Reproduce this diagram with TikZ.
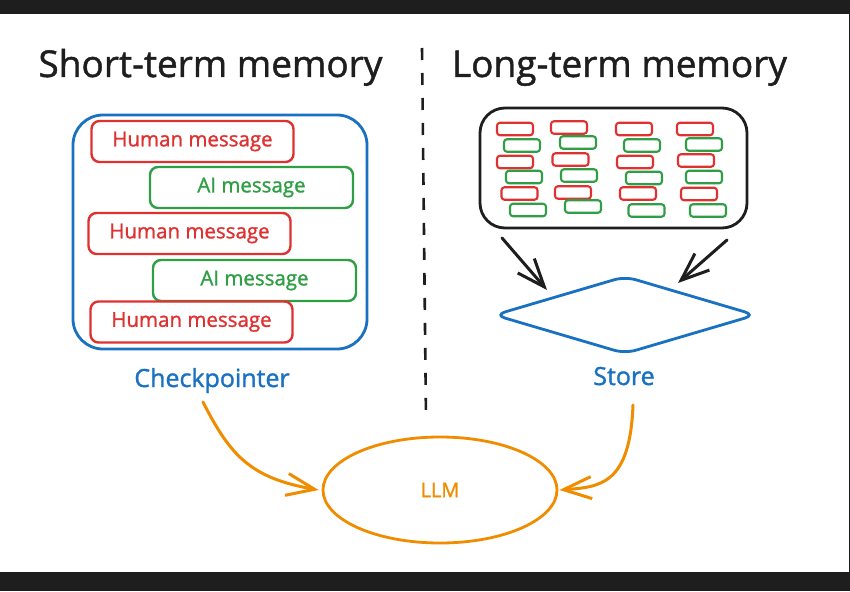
\documentclass[tikz,border=0pt]{standalone}
\usepackage{fontspec}
\setmainfont{Open Sans}[FakeBold=1.2]
\newfontfamily\handfont{Open Sans}[FakeBold=1.2]
\usetikzlibrary{arrows.meta,shapes.geometric}
\definecolor{exblue}{HTML}{1971C2}
\definecolor{exred}{HTML}{E03131}
\definecolor{exgreen}{HTML}{2F9E44}
\definecolor{exorange}{HTML}{F08C00}
\definecolor{exblack}{HTML}{1E1E1E}
\definecolor{darkbg}{HTML}{1E1E1E}
\tikzset{
  titletext/.style={anchor=base, inner sep=0pt, text=exblack, font=\handfont\fontsize{37}{40}\selectfont},
  labeltext/.style={anchor=base, inner sep=0pt, text=exblue, font=\handfont\fontsize{25}{28}\selectfont},
  msgbox/.style={draw, rounded corners=8pt, line width=2.4pt, inner sep=0pt, minimum height=41pt, font=\handfont\fontsize{20.5}{22}\selectfont},
  humanbox/.style={msgbox, draw=exred, text=exred, minimum width=202pt},
  aibox/.style={msgbox, draw=exgreen, text=exgreen, minimum width=203pt},
  chip/.style={draw, rounded corners=3pt, line width=2.1pt, minimum width=36pt, minimum height=12.5pt, inner sep=0pt},
  redchip/.style={chip, draw=exred},
  greenchip/.style={chip, draw=exgreen},
  blackarrow/.style={draw=exblack, line width=3pt, line cap=round, -{Straight Barb[length=28pt,width=22pt]}},
  orangearrow/.style={draw=exorange, line width=3pt, line cap=round, -{Straight Barb[length=28pt,width=22pt]}},
}
\begin{document}
\begin{tikzpicture}[x=1pt,y=-1pt]
\useasboundingbox (0,0) rectangle (850,591);
\fill[darkbg] (0,0) rectangle (850,591);
\fill[white] (0,14) rectangle (848.5,572);

% titles
\node[titletext] (ttl1) at (210.5,77) {Short-term memory};
\node[titletext] (ttl2) at (619.5,77) {Long-term memory};

% divider
\coordinate (divtop) at (422,48);
\coordinate (divbot) at (426,420);
\draw[exblack, line width=2.6pt, dash pattern=on 12pt off 13pt] (divtop) -- (divbot);

% short-term memory
\node[draw=exblue, line width=2.8pt, rounded corners=30pt, minimum width=294pt, minimum height=234pt, inner sep=0pt] (ckbox) at (220,232) {};
\node[humanbox] (h1) at (192.5,141.5) {Human message};
\node[aibox] (a1) at (251.5,187.5) {AI message};
\node[humanbox] (h2) at (189.5,233.5) {Human message};
\node[aibox] (a2) at (254.5,280.5) {AI message};
\node[humanbox] (h3) at (191.5,322) {Human message};
\node[labeltext] (ckpt) at (212,387) {Checkpointer};

% long-term memory
\node[draw=exblack, line width=2.8pt, rounded corners=25pt, minimum width=267pt, minimum height=120pt, inner sep=0pt] (mem) at (613.5,168) {};
\foreach \n/\cx/\cy/\st in {
  c11/515/129/redchip, c12/522/145.5/greenchip, c13/515/162/redchip, c14/524/177/greenchip, c15/519.5/193.5/redchip, c16/528/210/greenchip,
  c21/569/127.5/redchip, c22/578/142.5/greenchip, c23/570.5/159.5/redchip, c24/579/175.5/greenchip, c25/573/192.5/redchip, c26/583/206.5/greenchip,
  c31/634/129/redchip, c32/642/145.5/greenchip, c33/635/162/redchip, c34/644/178/greenchip, c35/638/193.5/redchip, c36/646.5/210.5/greenchip,
  c41/695/129/redchip, c42/704/144.5/greenchip, c43/696/160.5/redchip, c44/704/177/greenchip, c45/699/194/redchip, c46/708/210.5/greenchip}
  \node[\st] (\n) at (\cx,\cy) {};

\node[diamond, draw=exblue, line width=2.8pt, rounded corners=11pt, minimum width=262pt, minimum height=78pt, inner sep=0pt] (dia) at (625,315) {};
\node[labeltext] (store) at (624,385) {Store};

\coordinate (bl1) at (502,238);
\coordinate (bl2) at (547,290);
\coordinate (br1) at (727,240);
\coordinate (br2) at (678,283);
\draw[blackarrow] (bl1) -- (bl2);
\draw[blackarrow] (br1) -- (br2);

% LLM
\node[ellipse, draw=exorange, line width=2.8pt, minimum width=234pt, minimum height=106pt, inner sep=0pt, text=exorange, font=\handfont\fontsize{20}{22}\selectfont] (llm) at (440,490) {LLM};

\coordinate (ol) at (203,402);
\coordinate (or) at (633,405);
\draw[orangearrow] (ol) .. controls (230,455) and (250,478) .. ([xshift=-3pt]llm.west);
\draw[orangearrow] (or) .. controls (630,485) and (600,487) .. ([xshift=1pt]llm.east);
\end{tikzpicture}
\end{document}
